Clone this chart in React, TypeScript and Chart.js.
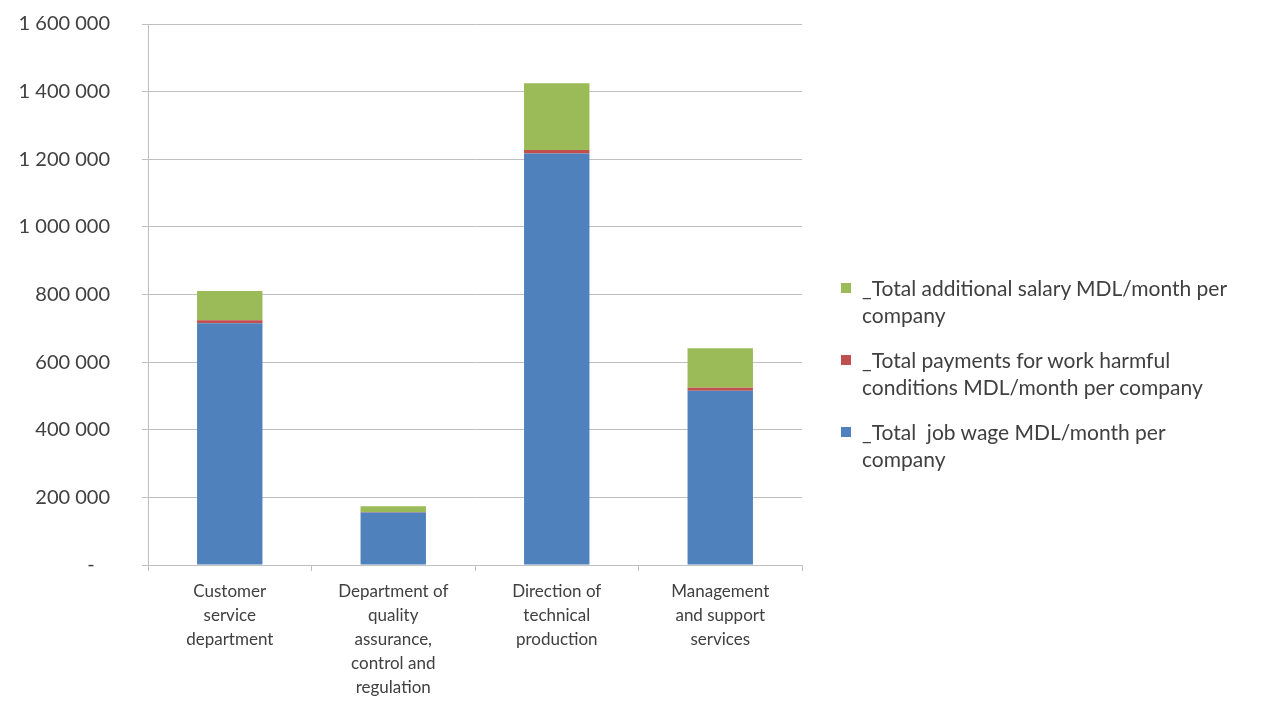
import React, { useEffect, useRef } from "react";
import { Chart, registerables } from "chart.js";

Chart.register(...registerables);

const categories: string[][] = [
  ["Customer", "service", "department"],
  ["Department of", "quality", "assurance,", "control and", "regulation"],
  ["Direction of", "technical", "production"],
  ["Management", "and support", "services"],
];

const jobWage = [715000, 155000, 1217000, 515000];
const harmfulPayments = [9000, 2000, 10000, 9000];
const additionalSalary = [86000, 17000, 198000, 117000];

const seriesLabels = [
  "_Total  job wage MDL/month per company",
  "_Total payments for work harmful conditions MDL/month per company",
  "_Total additional salary MDL/month per company",
];

const legendLines: string[][] = [
  ["_Total additional salary MDL/month per", "company"],
  ["_Total payments for work harmful", "conditions MDL/month per company"],
  ["_Total  job wage MDL/month per", "company"],
];

const yTicks = [0, 200000, 400000, 600000, 800000, 1000000, 1200000, 1400000, 1600000];

const colors = ["#4F81BD", "#C0504D", "#9BBB59"];
const legendColors = ["#9BBB59", "#C0504D", "#4F81BD"];

const FONT = "Lato, 'Open Sans', sans-serif";

function fmt(v: number): string {
  if (v === 0) return "-   ";
  return String(v).replace(/\B(?=(\d{3})+(?!\d))/g, " ");
}

export default function App() {
  const ref = useRef<HTMLCanvasElement | null>(null);

  useEffect(() => {
    if (!ref.current) return;
    const chart = new Chart(ref.current, {
      type: "bar",
      data: {
        labels: categories,
        datasets: [
          { label: seriesLabels[0], data: jobWage, backgroundColor: colors[0] },
          { label: seriesLabels[1], data: harmfulPayments, backgroundColor: colors[1] },
          { label: seriesLabels[2], data: additionalSalary, backgroundColor: colors[2] },
        ],
      },
      options: {
        animation: false,
        responsive: false,
        maintainAspectRatio: false,
        datasets: { bar: { categoryPercentage: 0.8, barPercentage: 0.5 } },
        layout: { padding: { top: 24, right: 470, left: 0, bottom: 0 } },
        plugins: {
          legend: { display: false },
          tooltip: { enabled: false },
        },
        scales: {
          x: {
            stacked: true,
            offset: true,
            grid: {
              offset: true,
              drawOnChartArea: false,
              drawTicks: true,
              tickLength: 6,
              color: "#BFBFBF",
            },
            border: { display: true, color: "#BFBFBF" },
            ticks: {
              color: "#404040",
              padding: 8,
              maxRotation: 0,
              autoSkip: false,
              font: { family: FONT, size: 17, lineHeight: 1.42 },
            },
            afterFit: (s: any) => {
              s.height = 161;
            },
          },
          y: {
            stacked: true,
            min: 0,
            max: 1600000,
            afterBuildTicks: (s: any) => {
              s.ticks = yTicks.map((v) => ({ value: v }));
            },
            grid: {
              color: "#BFBFBF",
              drawTicks: true,
              tickLength: 6,
            },
            border: { display: true, color: "#BFBFBF" },
            ticks: {
              color: "#404040",
              padding: 32,
              font: { family: FONT, size: 20 },
              callback: (v: any) => fmt(Number(v)),
            },
            afterFit: (s: any) => {
              s.width = 148;
              s.paddingTop = 0;
              s.paddingBottom = 0;
            },
          },
        },
      },
    });
    return () => chart.destroy();
  }, []);

  return (
    <div
      style={{
        position: "fixed",
        left: 0,
        top: 0,
        width: 1272,
        height: 726,
        background: "#ffffff",
        fontFamily: FONT,
      }}
    >
      <canvas ref={ref} width={1272} height={726} style={{ display: "block" }} />
      <div style={{ position: "absolute", left: 841, top: 274 }}>
        {legendLines.map((lines, i) => (
          <div key={i} style={{ display: "flex", alignItems: "flex-start", marginBottom: 18 }}>
            <div
              style={{
                width: 10,
                height: 10,
                background: legendColors[i],
                marginTop: 9,
                marginRight: 11,
                flex: "none",
              }}
            />
            <div style={{ fontSize: 21, lineHeight: "27px", color: "#404040", whiteSpace: "pre" }}>
              {lines.map((l, j) => (
                <div key={j}>{l}</div>
              ))}
            </div>
          </div>
        ))}
      </div>
    </div>
  );
}
